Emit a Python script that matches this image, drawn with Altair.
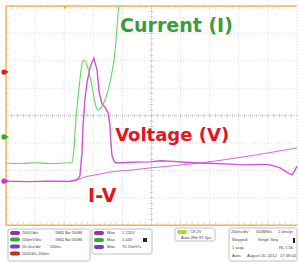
import altair as alt
import pandas as pd

# ---- screen geometry (pixels) used to place the scope graticule ----
W, H = 299, 263
LEFT, TOP, DX, DY = 6.0, 6.0, 29.1, 27.4
CY = TOP + 4 * DY


def xd(p):
    return (p - LEFT) / DX


def yd(p):
    return (CY - p) / DY


# ---- traces (time in divisions, level in divisions) ----
cur_t = [0, 0.5, 1.0, 1.5, 2.0, 2.27, 2.33, 2.40, 2.51, 2.61, 2.68, 2.78, 2.96, 3.06, 3.16, 3.26, 3.40, 3.57, 3.75, 3.87]
cur_v = [-1.73, -1.75, -1.72, -1.75, -1.73, -1.72, -1.26, -0.16, 1.01, 1.88, 2.03, 1.85, 1.04, 0.46, 0.20, 0.28, 0.57, 1.19, 2.39, 4.0]

volt_t = [0, 0.8, 1.5, 2.2, 2.34, 2.47, 2.54, 2.61, 2.65, 2.71, 2.78, 2.89, 3.02, 3.13, 3.20, 3.30, 3.40, 3.51,
          3.57, 3.61, 3.64, 3.71, 3.78, 4.3, 4.95, 5.3, 5.64, 6.15, 6.67, 7.18, 7.7, 8.21, 8.73, 9.07, 9.42, 9.69,
          9.83, 9.93, 10.0]
volt_v = [-2.39, -2.41, -2.39, -2.40, -2.37, -2.31, -2.20, -1.36, -0.34, 0.57, 1.19, 1.77, 2.10, 1.66, 0.86, 0.42,
          0.31, 0.09, -0.34, -1.07, -1.44, -1.66, -1.73, -1.70, -1.69, -1.65, -1.66, -1.70, -1.73, -1.75, -1.77,
          -1.80, -1.78, -1.80, -1.91, -2.09, -2.16, -1.99, -1.84]

iv_t = [2.20, 2.37, 2.54, 2.71, 2.89, 3.23, 3.57, 4.26, 4.95, 6.67, 8.38, 10.0]
iv_v = [-2.39, -2.37, -2.31, -2.24, -2.20, -2.13, -2.06, -1.99, -1.91, -1.73, -1.47, -1.18]

# ---- annotation labels ----
label_text = ["Current (I)", "Voltage (V)", "I-V"]
label_x = [3.92, 3.75, 2.82]
label_y = [3.05, -0.93, -3.15]
label_color = ["#3c9c3c", "#e8141c", "#e8141c"]
label_size = [19, 18, 19]

# ---- channel markers ----
marker_y = [1.59, -0.78, -2.39]
marker_color = ["#d42020", "#30b030", "#cc33cc"]

xs = alt.Scale(domain=[xd(0), xd(W)], nice=False, zero=False)
ys = alt.Scale(domain=[yd(H), yd(0)], nice=False, zero=False)


def X(f):
    return alt.X(f, type="quantitative", scale=xs, axis=None)


def Y(f):
    return alt.Y(f, type="quantitative", scale=ys, axis=None)


# graticule
vgrid = pd.DataFrame({"x": [i for i in range(1, 10) if i != 5], "y": -4, "y2": 4})
hgrid = pd.DataFrame({"y": [i for i in range(-3, 4) if i != 0], "x": 0, "x2": 10})
grid_v = alt.Chart(vgrid).mark_rule(color="#d8d8d8", strokeDash=[1, 2], strokeWidth=1).encode(
    x=X("x"), y=Y("y"), y2="y2")
grid_h = alt.Chart(hgrid).mark_rule(color="#d8d8d8", strokeDash=[1, 2], strokeWidth=1).encode(
    y=Y("y"), x=X("x"), x2="x2")
center = pd.DataFrame({"x": [5, 0], "x2": [5, 10], "y": [-4, 0], "y2": [4, 0]})
center_l = alt.Chart(center).mark_rule(color="#c0c0c0", strokeDash=[1, 1], strokeWidth=1).encode(
    x=X("x"), x2="x2", y=Y("y"), y2="y2")
minor_x = pd.DataFrame({"x": [i / 5 for i in range(1, 50)], "y": 0})
minor_y = pd.DataFrame({"y": [i / 5 - 4 for i in range(1, 40)], "x": 5})
ticks_x = alt.Chart(minor_x).mark_tick(orient="vertical", size=4, thickness=0.8, color="#b4b4b4").encode(
    x=X("x"), y=Y("y"))
ticks_y = alt.Chart(minor_y).mark_tick(orient="horizontal", size=4, thickness=0.8, color="#b4b4b4").encode(
    x=X("x"), y=Y("y"))
edge_top = pd.DataFrame({"x": [i / 5 for i in range(1, 50)], "y": 3.94})
edge_bot = pd.DataFrame({"x": [i / 5 for i in range(1, 50)], "y": -3.94})
edge_left = pd.DataFrame({"y": [i / 5 - 4 for i in range(1, 40)], "x": 0.05})
et = alt.Chart(edge_top).mark_tick(orient="vertical", size=3, thickness=0.8, color="#e8c080").encode(
    x=X("x"), y=Y("y"))
eb = alt.Chart(edge_bot).mark_tick(orient="vertical", size=3, thickness=0.8, color="#e8c080").encode(
    x=X("x"), y=Y("y"))
el = alt.Chart(edge_left).mark_tick(orient="horizontal", size=3, thickness=0.8, color="#e8c080").encode(
    x=X("x"), y=Y("y"))

frame = pd.DataFrame({"x": [0, 0, 0], "x2": [10, 10, 0], "y": [4, -4, -4], "y2": [4, -4, 4]})
frame_l = alt.Chart(frame).mark_rule(color="#f0b25a", strokeWidth=1.5).encode(
    x=X("x"), x2="x2", y=Y("y"), y2="y2")
right_edge = alt.Chart(pd.DataFrame({"x": [10], "y": [-4], "y2": [4]})).mark_rule(
    color="#c8c8c8", strokeDash=[1, 2]).encode(x=X("x"), y=Y("y"), y2="y2")

# traces
iv_line = alt.Chart(pd.DataFrame({"t": iv_t, "v": iv_v})).mark_line(
    color="#d468e0", strokeWidth=1, interpolate="monotone").encode(x=X("t"), y=Y("v"), order="t:Q")
volt_line = alt.Chart(pd.DataFrame({"t": volt_t, "v": volt_v})).mark_line(
    color="#d050d8", strokeWidth=1.4).encode(x=X("t"), y=Y("v"), order="t:Q")
cur_line = alt.Chart(pd.DataFrame({"t": cur_t, "v": cur_v})).mark_line(
    color="#62d862", strokeWidth=1.1, interpolate="monotone").encode(x=X("t"), y=Y("v"), order="t:Q")

labels = alt.Chart(pd.DataFrame({"text": label_text, "x": label_x, "y": label_y, "c": label_color,
                                 "s": label_size})).mark_text(
    align="left", baseline="alphabetic", font="DejaVu Sans", fontWeight="bold").encode(
    x=X("x"), y=Y("y"), text="text:N", color=alt.Color("c:N", scale=None), size=alt.Size("s:Q", scale=None))

mk = pd.DataFrame({"x": xd(4), "y": marker_y, "c": marker_color})
markers = alt.Chart(mk).mark_point(shape="circle", filled=True, size=28, opacity=1).encode(
    x=X("x"), y=Y("y"), color=alt.Color("c:N", scale=None))
mk2 = pd.DataFrame({"x": xd(7.5), "y": marker_y, "c": marker_color})
markers2 = alt.Chart(mk2).mark_point(shape="triangle-right", filled=True, size=10, opacity=1).encode(
    x=X("x"), y=Y("y"), color=alt.Color("c:N", scale=None))
trig = alt.Chart(pd.DataFrame({"x": [xd(65)], "y": [yd(7.5)]})).mark_point(
    shape="triangle-down", filled=True, size=14, color="#f0a030", opacity=1).encode(x=X("x"), y=Y("y"))

# ---- info panel (pixel layout converted to scope units) ----
boxes_px = [(8, 90, 229, 261), (92, 152, 229, 254), (175, 215, 228, 241), (229, 297, 228, 261)]
boxes = pd.DataFrame([{"x": xd(a), "x2": xd(b), "y": yd(c), "y2": yd(d)} for a, b, c, d in boxes_px])
box_l = alt.Chart(boxes).mark_rect(fill="white", stroke="#b0b0b0", strokeWidth=0.8, cornerRadius=2).encode(
    x=X("x"), x2="x2", y=Y("y"), y2="y2")

badge_px = [(10, 20, 233, "#9a2db0"), (10, 20, 239.5, "#2fb02f"), (10, 20, 246.5, "#7a3cc0"),
            (10, 20, 253.5, "#b83030"),
            (94, 104, 233, "#9a2db0"), (94, 104, 240, "#2fb02f"), (94, 104, 247, "#7a3cc0"),
            (177, 187, 232, "#b8d030")]
badges = pd.DataFrame([{"x": xd(a), "x2": xd(b), "y": yd(c - 2), "y2": yd(c + 2), "c": col}
                       for a, b, c, col in badge_px])
badge_l = alt.Chart(badges).mark_rect(cornerRadius=2).encode(
    x=X("x"), x2="x2", y=Y("y"), y2="y2", color=alt.Color("c:N", scale=None))

panel_txt = [
    (22, 233, "200V/div"), (55, 233, "1MΩ  Bw:500M"),
    (22, 239.5, "500mV/div"), (55, 239.5, "1MΩ  Bw:500M"),
    (22, 246.5, "50.0ns/div"), (50, 246.5, "200ns"),
    (22, 253.5, "500kS/s  200ns"),
    (107, 233, "Max"), (122, 233, "1.120V"),
    (107, 240, "Max"), (122, 240, "1.04V"),
    (107, 247, "Max"), (122, 247, "70.11mV/s"),
    (189, 232, "⁄  19.2V"), (181, 238, "Auto 2Hz   97.4μs"),
    (231, 232, "200ns/div"), (256, 232, "500MS/s"), (278, 232, "2.0ns/pt"),
    (232, 240, "Stopped"), (258, 240, "Single Seq"),
    (232, 248, "1 acqs"), (279, 248, "RL:1.0k"),
    (232, 256, "Auto"), (247, 256, "August 10, 2012"), (280, 256, "17:48:00"),
]
ptxt = pd.DataFrame([{"x": xd(a), "y": yd(b), "t": t} for a, b, t in panel_txt])
ptxt_l = alt.Chart(ptxt).mark_text(align="left", baseline="middle", fontSize=4.1, color="#444",
                                   font="Liberation Sans").encode(x=X("x"), y=Y("y"), text="t:N")
icons = pd.DataFrame({"x": [xd(143), xd(293)], "x2": [xd(147), xd(295)], "y": [yd(238), yd(238)],
                      "y2": [yd(242), yd(243)]})
icon_l = alt.Chart(icons).mark_rect(color="#222").encode(x=X("x"), x2="x2", y=Y("y"), y2="y2")

chart = alt.layer(
    grid_v, grid_h, center_l, ticks_x, ticks_y, right_edge, et, eb, el, frame_l,
    iv_line, volt_line, cur_line, labels, markers, markers2, trig,
    box_l, badge_l, ptxt_l, icon_l,
).properties(width=W, height=H, padding=0, autosize=alt.AutoSizeParams(type="none"),
             background="white").configure_view(stroke=None)

chart.save("out.html", embed_options={"renderer": "svg", "actions": False})
